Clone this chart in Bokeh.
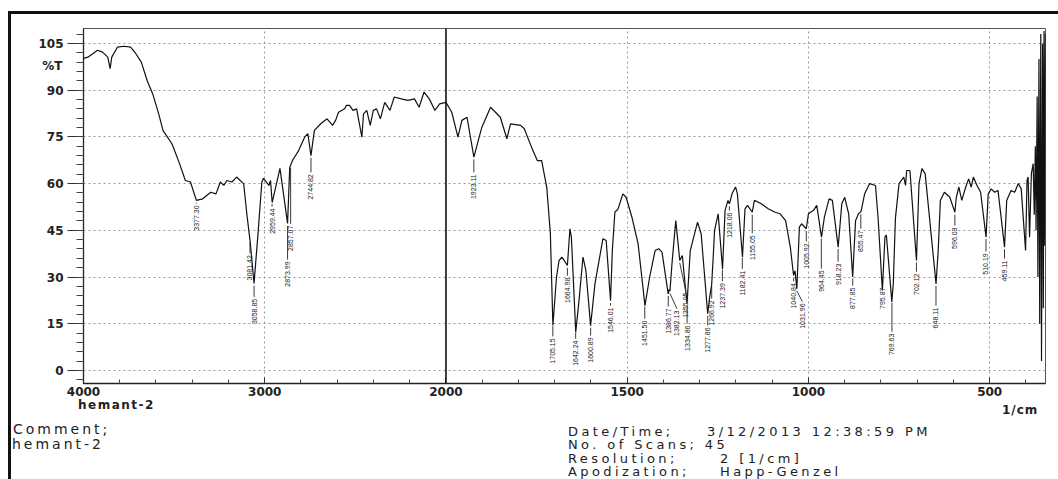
import numpy as np
from bokeh.plotting import figure
from bokeh.layouts import column
from bokeh.models import (Range1d, FixedTicker, CustomJSTickFormatter, Span, LinearAxis, Div)
from bokeh.embed import file_html
from bokeh.resources import INLINE
from bokeh.core.properties import value

# ---------------- data ----------------
wavenumber = [3998, 3976, 3949, 3923, 3895, 3866, 3853, 3844, 3813, 3776, 3740, 3711, 3681, 3649,
              3618, 3585, 3561, 3512, 3470, 3438, 3410, 3377, 3342, 3298, 3269, 3245, 3226, 3209,
              3181, 3155, 3116, 3099, 3081, 3059, 3037, 3016, 3007, 2977, 2968, 2959, 2916, 2874,
              2862, 2847, 2813, 2780, 2762, 2745, 2726, 2691, 2656, 2626, 2609, 2593, 2559, 2550,
              2532, 2513, 2493, 2464, 2455, 2437, 2418, 2401, 2383, 2362, 2338, 2309, 2285, 2247,
              2210, 2174, 2148, 2121, 2092, 2061, 2035, 2000, 1984, 1967, 1956, 1942, 1923, 1901,
              1877, 1850, 1832, 1822, 1794, 1784, 1764, 1748, 1736, 1722, 1712, 1705, 1695, 1688,
              1680, 1665, 1658, 1654, 1642, 1633, 1622, 1614, 1601, 1589, 1567, 1558, 1546, 1541,
              1534, 1525, 1512, 1503, 1487, 1470, 1451, 1438, 1423, 1413, 1404, 1387, 1384, 1382,
              1376, 1366, 1355, 1348, 1335, 1326, 1306, 1296, 1278, 1272, 1267, 1262, 1259, 1249,
              1237, 1230, 1222, 1218, 1210, 1201, 1196, 1182, 1175, 1168, 1155, 1149, 1130, 1111,
              1092, 1078, 1063, 1050, 1041, 1037, 1032, 1025, 1019, 1006, 1000, 986, 977, 964,
              956, 943, 934, 918, 908, 900, 889, 878, 870, 862, 855, 845, 831, 815, 808, 796, 789,
              785, 770, 766, 760, 750, 737, 732, 729, 720, 702, 695, 687, 678, 648, 642, 636, 625,
              610, 596, 592, 585, 577, 566, 558, 551, 545, 535, 525, 510, 504, 496, 486, 477, 459,
              453, 441, 431, 421, 413, 401, 397, 394, 390, 385, 380, 377, 374, 372, 369, 367, 364,
              362, 359, 357, 354, 352, 350, 348, 346]
transmittance = [100.2, 100.6, 101.7, 102.8, 102.2, 100.6, 96.9, 100.6, 103.8, 104.1, 103.8, 101.7, 99.0, 93.1,
                 88.8, 82.4, 77.0, 72.8, 66.4, 61.0, 60.5, 54.6, 55.1, 57.2, 56.7, 60.5, 59.4, 61.0,
                 60.5, 62.1, 59.9, 50.3, 41.7, 27.9, 44.0, 60.5, 61.7, 59.4, 61.0, 53.9, 64.9, 47.2,
                 65.2, 67.4, 70.6, 74.9, 76.0, 69.0, 77.1, 79.2, 80.8, 78.7, 80.3, 82.9, 84.0, 85.1,
                 85.1, 83.5, 84.0, 74.9, 82.4, 83.5, 78.7, 83.5, 84.0, 80.8, 86.1, 83.5, 87.8, 87.2,
                 86.7, 87.2, 84.5, 89.4, 87.2, 83.5, 85.6, 86.1, 82.9, 74.9, 80.3, 81.3, 68.5, 78.1,
                 84.5, 81.3, 74.4, 79.2, 78.7, 77.6, 71.7, 67.4, 67.4, 58.8, 44.0, 14.4, 30.0, 35.3,
                 36.4, 33.7, 45.5, 42.8, 12.3, 22.4, 36.4, 32.1, 14.4, 27.8, 42.3, 41.7, 22.4, 38.5,
                 50.8, 51.9, 56.7, 55.6, 49.2, 40.7, 20.8, 30.0, 38.5, 39.1, 38.0, 24.6, 26.0, 25.5,
                 35.0, 48.1, 35.3, 36.9, 21.4, 38.5, 47.6, 43.9, 18.2, 24.0, 27.5, 38.0, 45.0, 50.3,
                 32.6, 51.4, 54.6, 53.5, 57.0, 58.9, 56.7, 36.4, 51.9, 53.0, 50.8, 54.6, 53.5, 51.9,
                 50.8, 50.3, 48.1, 39.6, 30.5, 32.0, 26.2, 46.0, 47.1, 45.5, 50.3, 51.4, 53.0, 42.8,
                 49.2, 55.1, 54.6, 39.6, 53.5, 55.6, 50.3, 30.0, 48.1, 50.3, 51.0, 56.7, 60.0, 59.4, 49.2, 25.7, 42.8,
                 43.5, 22.0, 27.8, 49.0, 60.0, 62.1, 59.4, 64.2, 64.2, 35.3, 60.0, 64.8, 63.2, 27.8, 38.5, 54.6, 57.2,
                 55.6, 50.8, 55.6, 58.9, 54.6, 58.9, 61.5, 58.9, 62.1, 59.4, 57.2, 42.8, 56.7, 58.3, 57.2, 57.8, 39.6,
                 54.6, 57.8, 57.2, 60.0, 58.3, 38.5, 61.0, 62.1, 42.8, 63.2, 66.4, 50.0, 72.0, 45.0, 88.0, 30.0, 100.0,
                 15.0, 108.0, 3.0, 105.0, 20.0, 109.0, 40.0, 108.0]

peak_labels = ["3377.30", "3081.42", "3058.85", "2959.44", "2873.99", "2857.07", "2744.82", "1923.11",
               "1705.15", "1664.98", "1642.24", "1600.89", "1546.01", "1451.50", "1386.77", "1382.13",
               "1355.05", "1334.86", "1277.86", "1266.92", "1237.39", "1218.06", "1182.41", "1155.05",
               "1040.84", "1031.96", "1005.92", "964.45", "918.23", "877.85", "855.47", "795.87",
               "769.63", "702.12", "648.11", "596.03", "510.19", "459.11"]
peak_label_top = [53.0, 37.0, 23.0, 52.0, 35.0, 46.5, 63.0, 63.0,
                  10.3, 29.8, 9.6, 10.6, 20.2, 16.0, 19.9, 19.2,
                  25.0, 14.4, 13.8, 22.5, 28.0, 50.7, 32.0, 43.4,
                  28.0, 21.5, 40.8, 32.1, 34.3, 26.6, 44.9, 26.6,
                  11.8, 31.1, 20.2, 45.9, 37.6, 35.3]

x_tick_wn = [4000, 3000, 2000, 1500, 1000, 500]
x_minor_wn = [3800, 3600, 3400, 3200, 2800, 2600, 2400, 2200,
              1900, 1800, 1700, 1600, 1400, 1300, 1200, 1100, 900, 800, 700, 600, 400]
x_grid_wn = [3000, 1500, 1000, 500]
y_ticks = [0, 15, 30, 45, 60, 75, 90, 105]
y_minor = list(range(-3, 110, 3))
y_unit_label = "%T"
x_unit_label = "1/cm"

sample_name = "hemant-2"
comment_lines = ["Comment;", "hemant-2"]
info_left = ["Date/Time;", "No. of Scans; 45", "Resolution;", "Apodization;"]
info_right = ["3/12/2013 12:38:59 PM", "", "2 [1/cm]", "Happ-Genzel"]


# ------------- two-scale wavenumber axis (4000-2000 compressed 2x) -------------
def to_t(wn):
    wn = np.asarray(wn, dtype=float)
    return np.where(wn >= 2000, (4000.0 - wn) / 2.0, 1000.0 + (2000.0 - wn))


T_END = float(to_t(346))
Y0, Y1 = -4.2, 109.8

W, H = 1047, 388
BL, BR, BT, BB = 72, 13, 14, 19

p = figure(width=W, height=H, output_backend="svg", toolbar_location=None,
           x_range=Range1d(0, T_END), y_range=Range1d(Y0, Y1),
           min_border_left=BL, min_border_right=BR, min_border_top=BT, min_border_bottom=BB)
p.background_fill_color = "white"
p.border_fill_color = "white"
p.outline_line_color = "#555"
p.outline_line_width = 1

# grid
p.xgrid.ticker = FixedTicker(ticks=[float(v) for v in to_t(x_grid_wn)])
p.ygrid.ticker = FixedTicker(ticks=y_ticks)
for g in (p.xgrid, p.ygrid):
    g.grid_line_color = "#9a9a9a"
    g.grid_line_dash = "2 3"
    g.grid_line_width = 1

# axes
xa = p.xaxis[0]
xa.ticker = FixedTicker(ticks=[float(v) for v in to_t(x_tick_wn)],
                        minor_ticks=[float(v) for v in to_t(x_minor_wn)])
xa.formatter = CustomJSTickFormatter(code="""
const w = tick <= 1000 ? 4000 - 2*tick : 2000 - (tick - 1000);
return Math.round(w).toString();
""")
xa.major_tick_in = 6
xa.major_tick_out = 0
xa.minor_tick_in = 4
xa.minor_tick_out = 0
xa.major_label_standoff = 3

ya = p.yaxis[0]
ya.ticker = FixedTicker(ticks=y_ticks, minor_ticks=y_minor)
ya.major_tick_out = 16
ya.major_tick_in = 0
ya.minor_tick_out = 7
ya.minor_tick_in = 0
ya.major_label_standoff = 4

for ax in (xa, ya):
    ax.axis_line_color = "#222"
    ax.axis_line_width = 1.3
    ax.major_tick_line_color = "#333"
    ax.minor_tick_line_color = "#444"
    ax.major_label_text_font = "DejaVu Sans"
    ax.major_label_text_font_style = "bold"
    ax.major_label_text_font_size = "12px"
    ax.major_label_text_color = "#222"

# "%T" as the label of a second, bare left axis
pt_axis = LinearAxis(ticker=FixedTicker(ticks=[97.9]),
                     formatter=CustomJSTickFormatter(code="return '%s';" % y_unit_label),
                     axis_line_color=None, major_tick_line_color=None, minor_tick_line_color=None,
                     major_tick_in=0, major_tick_out=0, minor_tick_in=0, minor_tick_out=0,
                     major_label_standoff=-27,
                     major_label_text_font="DejaVu Sans", major_label_text_font_style="bold",
                     major_label_text_font_size="12px", major_label_text_color="#222")
p.add_layout(pt_axis, "left")

# the 2000 cm-1 scale-change line
p.add_layout(Span(location=float(to_t(2000)), dimension="height", line_color="#111", line_width=1.6))

# spectrum
t_data = to_t(wavenumber)
p.line(t_data, transmittance, line_color="#111", line_width=1.2)

# peak labels with leaders
lab_wn = np.array([float(s) for s in peak_labels])
lab_t = to_t(lab_wn)
lab_top = np.array(peak_label_top)
lab_x = lab_t.copy()
order = np.argsort(lab_t)
GAP, TLEN = 24.0, 8.5
placed = []
for i in order:
    x = lab_t[i]
    for _ in range(3):
        for (qx, qtop) in placed:
            if abs(qtop - lab_top[i]) < TLEN and abs(x - qx) < GAP:
                x = qx + GAP
    lab_x[i] = x
    placed.append((x, lab_top[i]))

curve_at = np.interp(lab_t, t_data, transmittance)
y_from = curve_at - 0.8
y_to = lab_top + 0.6
mask = y_from > y_to
p.segment(x0=lab_t[mask], y0=y_from[mask], x1=lab_x[mask], y1=y_to[mask],
          line_color="#222", line_width=0.9)
p.text(x=lab_x, y=lab_top, text=peak_labels, angle=np.pi / 2,
       text_align="right", text_baseline="middle",
       text_font=value("Liberation Sans"), text_font_size="7px", text_color="#222")


# ---------------- texts under the chart ----------------
def span(txt, left, top, size, bold=False, spacing=0.0):
    weight = "bold" if bold else "normal"
    return ('<span style="position:absolute;left:%dpx;top:%dpx;font-size:%dpx;line-height:%dpx;'
            'letter-spacing:%.1fpx;white-space:nowrap;font-weight:%s;">%s</span>'
            % (left, top, size, size, spacing, weight, txt))


parts = [span(sample_name, 62, -8, 12, True, 1.5), span(x_unit_label, 986, -3, 12, True, 1.0),
         span(comment_lines[0], -3, 15, 14, False, 3.0), span(comment_lines[1], -4, 30, 14, False, 3.0)]
info_tops = [18, 31, 45, 58]
for txt, tp in zip(info_left, info_tops):
    parts.append(span(txt, 552, tp, 13, False, 3.4))
for txt, tp in zip(info_right, info_tops):
    if txt:
        parts.append(span(txt, 691 if tp == info_tops[0] else 704, tp, 13, False, 3.4))

html = ('<div style="position:relative;width:%dpx;height:74px;font-family:\'DejaVu Sans\',sans-serif;'
        'color:#222;">%s</div>' % (W - 10, "".join(parts)))
info = Div(text=html, width=W, height=76)

layout = column(p, info, spacing=0)
layout.styles = {"margin-left": "8px", "margin-top": "11px",
                 "border-top": "3px solid #111", "border-left": "3px solid #111"}

open("out.html", "w").write(file_html(layout, INLINE))
